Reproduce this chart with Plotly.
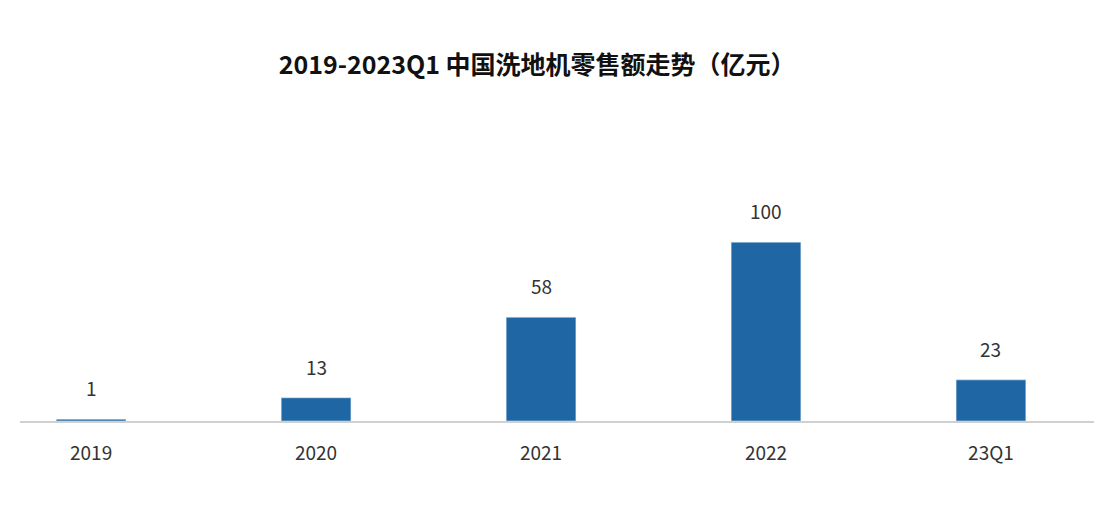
import plotly.graph_objects as go

categories = ["2019", "2020", "2021", "2022", "23Q1"]
values = [1, 13, 58, 100, 23]
positions = list(range(len(categories)))

fig = go.Figure(go.Bar(
    x=positions, y=values, width=0.31,
    marker_color="#1f67a4", hoverinfo="skip",
))
for p, v in zip(positions, values):
    fig.add_annotation(x=p, y=v, text=str(v), showarrow=False,
                       yanchor="bottom", yshift=16,
                       font=dict(size=19, color="#333333"))
fig.update_layout(
    width=1114, height=518,
    margin=dict(l=12, r=28, t=100, b=105),
    paper_bgcolor="white", plot_bgcolor="white",
    font=dict(family="Noto Sans CJK SC, Noto Sans, sans-serif"),
    title=dict(text="<b>2019-2023Q1 中国洗地机零售额走势（亿元）</b>",
               x=0.475, xanchor="center", y=0.89, yanchor="middle",
               font=dict(size=25, color="#111111")),
    xaxis=dict(range=[-0.316, 4.458], tickvals=positions, ticktext=categories,
               showgrid=False, showline=True, linecolor="#d0d0d0", linewidth=2,
               ticks="", ticklabelstandoff=14, tickfont=dict(size=19, color="#333333")),
    yaxis=dict(range=[0, 175], visible=False),
    showlegend=False,
)
fig.write_html("out.html")
